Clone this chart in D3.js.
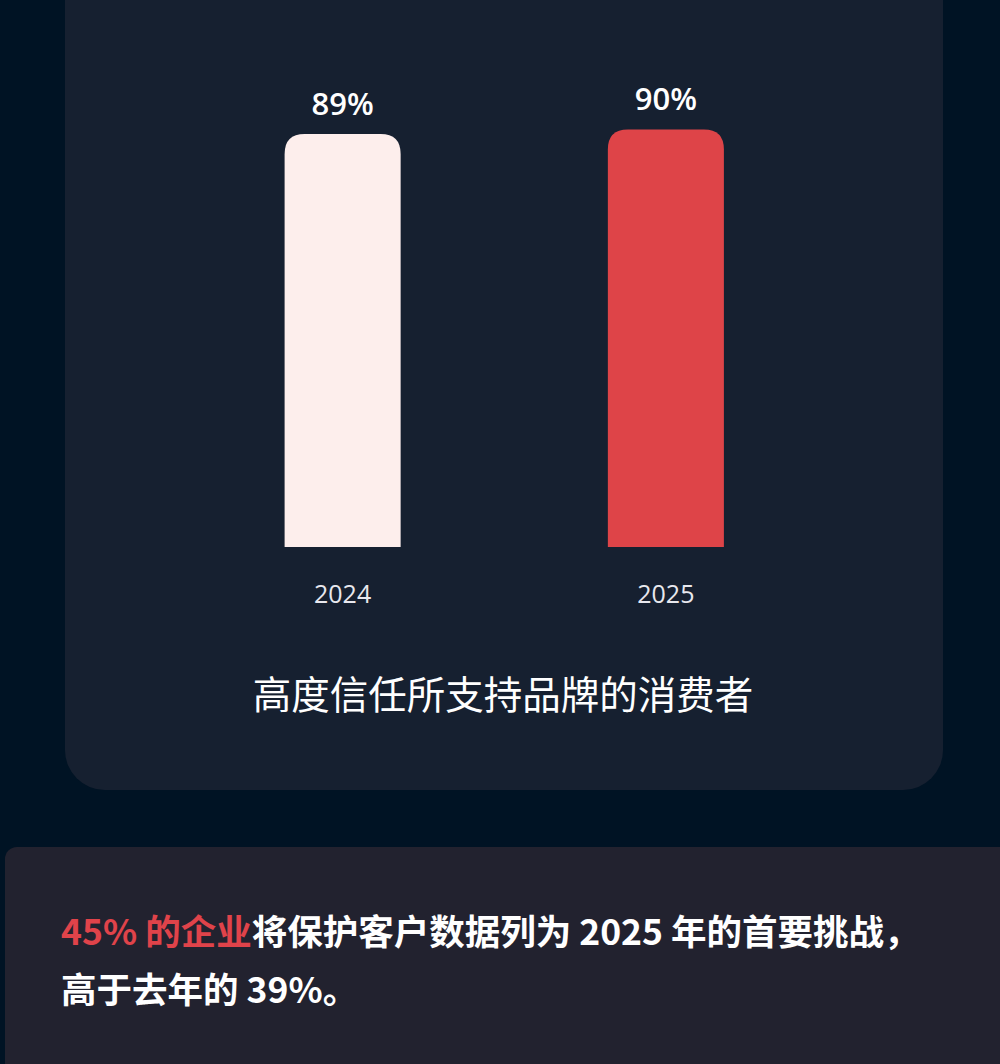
<!DOCTYPE html>
<html>
<head>
<meta charset="utf-8">
<script src="https://cdn.jsdelivr.net/npm/d3@7/dist/d3.min.js"></script>
<style>
  html, body { margin: 0; padding: 0; background: #001324; }
  svg { display: block; }
</style>
</head>
<body>
<script>
// ---- data ----
const years = ["2024", "2025"];
const values = [89, 90];
const valueLabels = ["89%", "90%"];
const barColors = ["#fdeeec", "#de4448"];
const caption = "高度信任所支持品牌的消费者";
const noteHighlight = "45% 的企业";
const noteRest1 = "将保护客户数据列为 2025 年的首要挑战，";
const noteLine2 = "高于去年的 39%。";

const W = 1000, H = 1064;
const svg = d3.select("body").append("svg").attr("width", W).attr("height", H);

svg.append("rect").attr("width", W).attr("height", H).attr("fill", "#001324");

// top card
svg.append("rect").attr("x", 65).attr("y", -60).attr("width", 878).attr("height", 850)
  .attr("rx", 40).attr("fill", "#162030");

// bottom card
svg.append("rect").attr("x", 5).attr("y", 847).attr("width", 1010).attr("height", 260)
  .attr("rx", 12).attr("fill", "#22222f");

const x = d3.scaleBand().domain(years).range([181, 827.5]).paddingInner(0.641).paddingOuter(0.3205);
const y = d3.scaleLinear().domain([0, 100]).range([547, 83]);

const data = years.map((yr, i) => ({ yr, v: values[i], label: valueLabels[i], color: barColors[i] }));

function topRounded(x0, y0, w, h, r) {
  r = Math.min(r, w / 2, h);
  return `M${x0},${y0 + h}V${y0 + r}Q${x0},${y0} ${x0 + r},${y0}H${x0 + w - r}Q${x0 + w},${y0} ${x0 + w},${y0 + r}V${y0 + h}Z`;
}

const g = svg.append("g");
g.selectAll("path.bar").data(data).join("path").attr("class", "bar")
  .attr("d", d => topRounded(x(d.yr), y(d.v), x.bandwidth(), y(0) - y(d.v), 20))
  .attr("fill", d => d.color);

g.selectAll("text.val").data(data).join("text").attr("class", "val")
  .attr("x", d => x(d.yr) + x.bandwidth() / 2)
  .attr("y", d => y(d.v) - 19)
  .attr("text-anchor", "middle")
  .attr("font-family", "'Open Sans', 'Noto Sans', sans-serif")
  .attr("font-weight", 600)
  .attr("font-size", 31)
  .attr("fill", "#ffffff")
  .text(d => d.label);

// x axis labels
const xAxis = d3.axisBottom(x).tickSize(0).tickPadding(0);
const ax = svg.append("g").attr("transform", `translate(0,${y(0)})`).call(xAxis);
ax.select(".domain").remove();
ax.selectAll("text")
  .attr("dy", null).attr("y", 56)
  .attr("font-family", "'Open Sans', 'Noto Sans', sans-serif")
  .attr("font-size", 25)
  .attr("fill", "#e8e8ee");

// caption
svg.append("text").attr("x", 503).attr("y", 709).attr("text-anchor", "middle")
  .attr("font-family", "'Noto Sans CJK SC', sans-serif")
  .attr("font-size", 38.5).attr("fill", "#ffffff").text(caption);

// note
const note = svg.append("text").attr("x", 61).attr("y", 945)
  .attr("font-family", "'Noto Sans CJK SC', sans-serif")
  .attr("font-weight", 700).attr("font-size", 35.5).attr("fill", "#ffffff");
note.append("tspan").attr("fill", "#e0434a").text(noteHighlight);
note.append("tspan").text(noteRest1);
svg.append("text").attr("x", 61).attr("y", 1003)
  .attr("font-family", "'Noto Sans CJK SC', sans-serif")
  .attr("font-weight", 700).attr("font-size", 35.5).attr("fill", "#ffffff").text(noteLine2);
</script>
</body>
</html>
